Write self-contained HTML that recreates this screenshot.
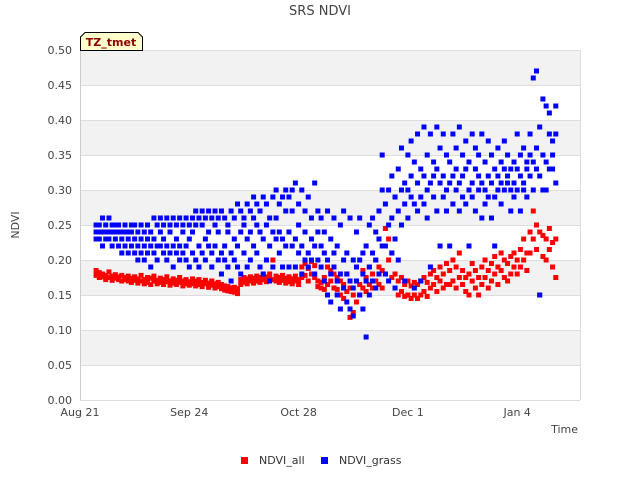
<!DOCTYPE html>
<html><head><meta charset="utf-8"><style>
body{margin:0;background:#fff;font-family:"Liberation Sans","DejaVu Sans",sans-serif}
svg text{font-family:"DejaVu Sans","Liberation Sans",sans-serif}
</style></head><body>
<svg id="chart" width="640" height="480" viewBox="0 0 640 480" xmlns="http://www.w3.org/2000/svg">
<text x="320" y="15" text-anchor="middle" font-size="13" fill="#444">SRS NDVI</text>
<g id="bands"></g><g id="grid"></g>
<line x1="80.5" y1="50" x2="80.5" y2="400" stroke="#ccc"/>
<g id="yticks"></g><g id="xticks"></g>
<g id="marks"></g>
<text x="19" y="225" transform="rotate(-90 19 225)" text-anchor="middle" font-size="11" fill="#444">NDVI</text>
<text x="578" y="433" text-anchor="end" font-size="11" fill="#444">Time</text>
<g>
<path d="M80.5,50.5 L80.5,37 L85,32.5 L138,32.5 L142.5,37 L142.5,50.5 Z" fill="#ffffcc" stroke="#000"/>
<text x="111" y="46" text-anchor="middle" font-size="11" font-weight="bold" fill="#8b0000">TZ_tmet</text>
</g>
<g>
<rect x="241" y="457" width="7" height="7" fill="#f00"/>
<text x="259" y="464" font-size="11" fill="#333">NDVI_all</text>
<rect x="321" y="457" width="7" height="7" fill="#00f"/>
<text x="339" y="464" font-size="11" fill="#333">NDVI_grass</text>
</g>
</svg>
<script>
const yTicks=[0,0.05,0.1,0.15,0.2,0.25,0.3,0.35,0.4,0.45,0.5];
const xTickDays=[0,34,68,102,136];
const xTickLabels=["Aug 21","Sep 24","Oct 28","Dec 1","Jan 4"];
const startDay=5;
const grassVals=[
[.24,.25,.23],[.25,.23,.24],[.26,.24,.22],[.24,.25,.23],[.23,.26,.24],[.25,.22,.24],[.24,.23,.25],[.22,.25,.24],[.23,.24,.21],[.25,.22,.24],
[.24,.21,.23],[.25,.22,.24],[.23,.25,.21],[.24,.22,.20],[.25,.21,.23],[.22,.24,.20],[.25,.21,.23],[.24,.22,.19],[.26,.21,.23],[.22,.25,.20],
[.26,.22,.24],[.21,.25,.23],[.26,.22,.20],[.24,.21,.25],[.22,.26,.19],[.25,.21,.23],[.26,.22,.20],[.24,.21,.25],[.26,.20,.22],[.25,.19,.23],
[.26,.21,.24],[.27,.20,.25],[.26,.22,.19],[.25,.21,.27],[.26,.20,.23],[.27,.22,.24],[.26,.19,.21],[.25,.22,.27],[.26,.20,.24],[.27,.21,.18],
[.26,.22,.20],[.25,.19,.24],[.27,.21,.17],[.26,.23,.20],[.28,.19,.22],[.27,.24,.18],[.26,.21,.25],[.28,.23,.19],[.27,.20,.24],[.29,.22,.26],
[.28,.21,.25],[.27,.19,.24],[.29,.23,.18],[.28,.25,.20],[.26,.22,.17],[.29,.24,.19],[.30,.23,.26],[.28,.21,.24],[.29,.23,.19],[.30,.27,.22],
[.29,.24,.19],[.30,.22,.27],[.31,.23,.19],[.28,.25,.21],[.30,.22,.18],[.27,.24,.20],[.29,.21,.19],[.26,.23,.20],[.31,.22,.18],[.27,.20,.24],
[.26,.19,.22],[.21,.17,.24],[.27,.20,.15],[.23,.18,.14],[.26,.19,.21],[.22,.15,.17],[.25,.13,.18],[.27,.16,.20],[.21,.14,.18],[.26,.13,.17],
[.20,.12,.16],[.24,.17,.19],[.26,.15,.20],[.21,.13,.18],[.09,.17,.22],[.25,.19,.15],[.26,.21,.17],[.20,.24,.16],[.27,.18,.23],[.30,.35,.22],
[.28,.22,.18],[.30,.25,.17],[.26,.32,.21],[.29,.23,.16],[.33,.27,.20],[.36,.30,.25],[.31,.28,.17],[.35,.30,.26],[.37,.32,.29],[.34,.28,.16],
[.38,.31,.27],[.33,.29,.17],[.39,.32,.28],[.35,.30,.26],[.38,.31,.19],[.34,.29,.32],[.39,.33,.27],[.36,.31,.22],[.38,.32,.29],[.35,.30,.27],
[.34,.31,.22],[.38,.32,.28],[.36,.30,.33],[.39,.31,.27],[.35,.29,.32],[.37,.33,.28],[.34,.30,.22],[.38,.31,.29],[.36,.33,.27],[.35,.32,.30],
[.38,.31,.26],[.34,.30,.28],[.37,.32,.29],[.35,.31,.26],[.33,.29,.22],[.36,.32,.30],[.34,.31,.28],[.37,.33,.30],[.35,.32,.31],[.33,.30,.27],
[.34,.31,.29],[.38,.33,.30],[.35,.32,.27],[.36,.31,.30],[.34,.33,.29],[.38,.35,.32],[.46,.34,.30],[.47,.36,.33],[.39,.32,.15],[.43,.35,.30],
[.42,.34,.30],[.41,.38,.33],[.37,.33,.35],[.42,.38,.31]];
const allVals=[
[.185,.178],[.182,.175],[.180,.176],[.178,.172],[.183,.175],[.177,.171],[.179,.174],[.176,.172],[.178,.170],[.175,.172],
[.177,.170],[.174,.168],[.176,.171],[.173,.167],[.178,.170],[.172,.166],[.175,.168],[.174,.165],[.177,.170],[.171,.166],
[.174,.168],[.172,.165],[.176,.169],[.170,.164],[.173,.167],[.171,.165],[.175,.168],[.170,.163],[.172,.166],[.169,.164],
[.173,.166],[.170,.163],[.172,.165],[.168,.162],[.171,.166],[.167,.161],[.170,.164],[.166,.160],[.168,.162],[.165,.159],
[.163,.157],[.162,.156],[.160,.155],[.161,.154],[.159,.152],[.172,.165],[.175,.168],[.173,.166],[.176,.170],[.174,.167],
[.177,.170],[.175,.168],[.178,.172],[.176,.169],[.180,.173],[.200,.172],[.177,.170],[.175,.168],[.178,.171],[.174,.167],
[.176,.169],[.173,.166],[.177,.170],[.172,.165],[.190,.175],[.195,.178],[.188,.170],[.198,.180],[.192,.175],[.170,.162],
[.168,.160],[.175,.158],[.190,.165],[.185,.170],[.180,.160],[.175,.158],[.170,.150],[.165,.145],[.180,.155],[.118,.160],
[.150,.125],[.170,.140],[.165,.150],[.185,.160],[.175,.155],[.190,.165],[.180,.160],[.200,.170],[.190,.165],[.185,.160],
[.245,.180],[.230,.200],[.210,.175],[.180,.160],[.170,.150],[.175,.155],[.165,.148],[.170,.150],[.163,.145],[.168,.150],
[.165,.145],[.170,.150],[.175,.155],[.168,.148],[.180,.160],[.185,.165],[.175,.155],[.190,.170],[.180,.160],[.195,.165],
[.185,.165],[.200,.170],[.190,.160],[.210,.175],[.185,.165],[.175,.155],[.180,.150],[.195,.170],[.185,.160],[.175,.150],
[.190,.165],[.200,.175],[.185,.160],[.195,.170],[.205,.180],[.190,.165],[.210,.185],[.200,.175],[.195,.170],[.205,.180],
[.210,.190],[.200,.180],[.215,.190],[.230,.200],[.210,.185],[.240,.210],[.270,.230],[.250,.215],[.240,.150],[.235,.205],
[.230,.200],[.245,.215],[.225,.190],[.230,.175]];

const NS="http://www.w3.org/2000/svg";
const X0=80,X1=580,Y0=400,Y1=50,PXDAY=109.3/34;
function xs(d){return X0+d*PXDAY;}
function ys(v){return Y0-(v/0.5)*(Y0-Y1);}
function mk(tag,attrs,parent){const e=document.createElementNS(NS,tag);for(const k in attrs)e.setAttribute(k,attrs[k]);parent.appendChild(e);return e;}
const bands=document.getElementById('bands'),grid=document.getElementById('grid');
mk('rect',{x:X0,y:Y1,width:X1-X0,height:Y0-Y1,fill:'#fff'},bands);
for(let i=0;i<yTicks.length-1;i++){
  if(i%2===1){const r=mk('rect',{x:X0,y:ys(yTicks[i+1]),width:X1-X0,height:ys(yTicks[i])-ys(yTicks[i+1]),fill:'#f2f2f2'},bands);
  
  }
}
const yt=document.getElementById('yticks');
yTicks.forEach(v=>{
  const l=mk('line',{x1:X0,x2:X1,y1:ys(v)+.5,y2:ys(v)+.5,stroke:'#ddd'},grid);
  
  
  const t=mk('text',{x:72,y:ys(v)+4,'text-anchor':'end','font-size':11,fill:'#444'},yt);
  t.textContent=v.toFixed(2);
  
  
});
mk('line',{x1:X1+.5,x2:X1+.5,y1:Y1,y2:Y0,stroke:'#ddd'},grid);
const xt=document.getElementById('xticks');
xTickDays.forEach((d,i)=>{
  const t=mk('text',{x:xs(d),y:416,'text-anchor':'middle','font-size':11,fill:'#444'},xt);
  t.textContent=xTickLabels[i];
  
  
});
const marks=document.getElementById('marks');
function drawSeries(vals,color,name){
  vals.forEach((arr,i)=>{const d=startDay+i;arr.forEach(v=>{
    const r=mk('rect',{x:xs(d)-2.5,y:ys(v)-2.5,width:5,height:5,fill:color},marks);
    
    
  });});
}
drawSeries(allVals,'#f00','ndvi-all-point');
drawSeries(grassVals,'#00f','ndvi-grass-point');
</script>
</body></html>
